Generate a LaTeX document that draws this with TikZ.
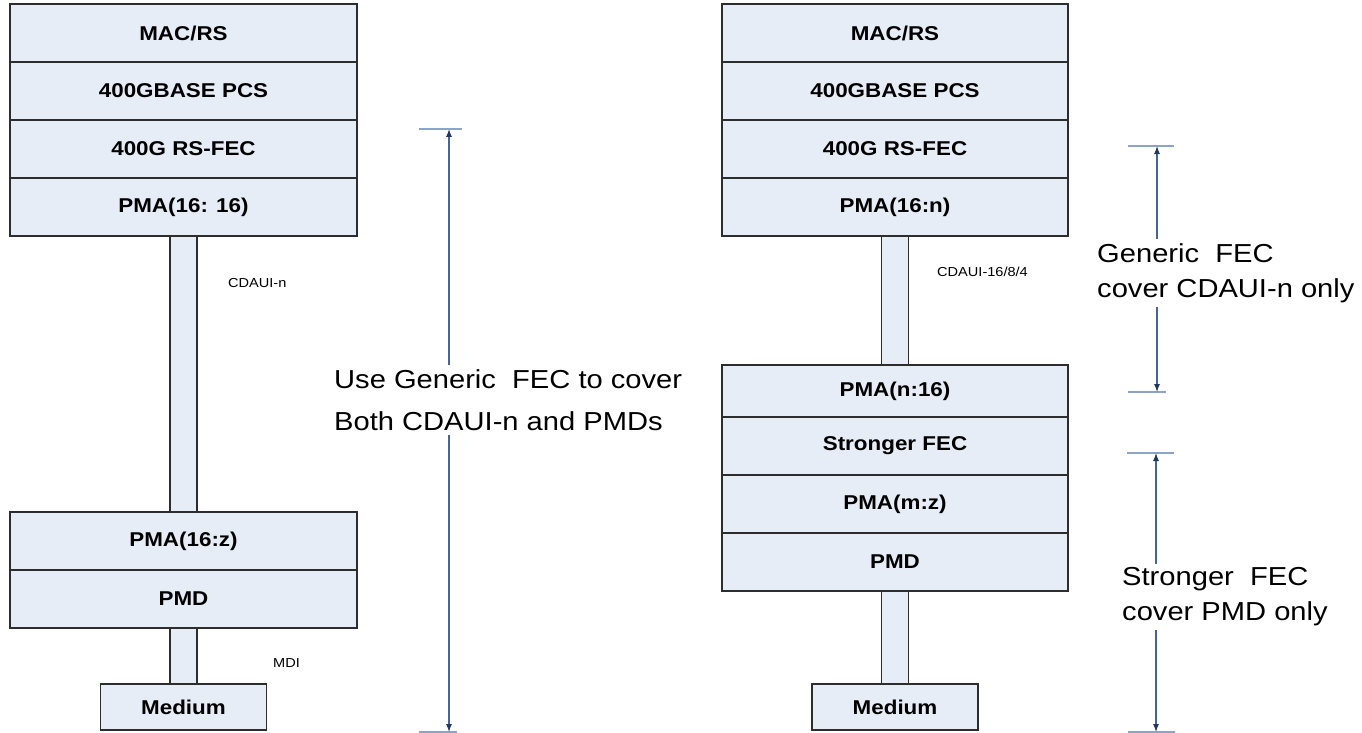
\documentclass[tikz,border=0pt]{standalone}
\usepackage{fontspec}
\setmainfont{Liberation Sans}[FakeStretch=1.12]
\usetikzlibrary{positioning,arrows.meta}
\definecolor{layerfill}{RGB}{231,237,247}
\definecolor{layerdraw}{RGB}{45,45,45}
\definecolor{spanline}{RGB}{72,100,148}
\definecolor{spancap}{RGB}{140,164,200}
\definecolor{spantip}{RGB}{31,56,100}
\tikzset{
  stacklayer/.style={draw=layerdraw, fill=layerfill, line width=1.2pt, outer sep=0pt, inner sep=0pt,
                     minimum width=347pt, minimum height=58pt, font=\fontsize{20}{24}\selectfont\bfseries},
  stacklink/.style={draw=layerdraw, fill=layerfill, line width=1.2pt, outer sep=0pt, inner sep=0pt,
                    minimum width=27pt},
  mediumbox/.style={stacklayer, minimum width=166pt, minimum height=46pt},
  ifacelabel/.style={anchor=west, inner sep=0pt, font=\fontsize{13}{15}\selectfont},
  fecnote/.style={align=left, anchor=west, inner xsep=1pt, inner ysep=4pt, font=\fontsize{26}{35}\selectfont},
  fecspan/.style={draw=spanline, line width=1.1pt, -{Latex[length=8pt,width=6pt,color=spantip]}},
  fecend/.style={draw=spancap, line width=1.3pt}
}
\newcommand{\feccap}[3]{\draw[fecend] ([xshift=-#2pt]#1) -- ([xshift=#3pt]#1);}

\begin{document}
\begin{tikzpicture}[x=1pt,y=-1pt]
\useasboundingbox (0,0) rectangle (1362,733);

\node[stacklayer] (lmac) at (183.5,33) {MAC/RS};
\node[stacklayer, below=0pt of lmac] (lpcs) {400GBASE PCS};
\node[stacklayer, below=0pt of lpcs] (lrsfec) {400G RS-FEC};
\node[stacklayer, below=0pt of lrsfec] (lpma) {PMA(16: 16)};
\node[stacklink, minimum height=276pt, below=0pt of lpma] (lcdaui) {};
\node[stacklayer, below=0pt of lcdaui] (lpmaz) {PMA(16:z)};
\node[stacklayer, below=0pt of lpmaz] (lpmd) {PMD};
\node[stacklink, minimum height=56pt, below=0pt of lpmd] (lmdi) {};
\node[mediumbox, below=0pt of lmdi] (lmedium) {Medium};

\node[ifacelabel] (lcdauitxt) at (228,283) {CDAUI-n};
\node[ifacelabel] (lmditxt) at (273,663) {MDI};

\node[stacklayer, minimum width=346pt] (rmac) at (895,33) {MAC/RS};
\node[stacklayer, minimum width=346pt, below=0pt of rmac] (rpcs) {400GBASE PCS};
\node[stacklayer, minimum width=346pt, below=0pt of rpcs] (rrsfec) {400G RS-FEC};
\node[stacklayer, minimum width=346pt, below=0pt of rrsfec] (rpma) {PMA(16:n)};
\node[stacklink, minimum height=129pt, below=0pt of rpma] (rcdaui) {};
\node[stacklayer, minimum width=346pt, minimum height=52pt, below=0pt of rcdaui] (rpman) {PMA(n:16)};
\node[stacklayer, minimum width=346pt, below=0pt of rpman] (rsfec) {Stronger FEC};
\node[stacklayer, minimum width=346pt, below=0pt of rsfec] (rpmamz) {PMA(m:z)};
\node[stacklayer, minimum width=346pt, below=0pt of rpmamz] (rpmd) {PMD};
\node[stacklink, minimum height=93pt, below=0pt of rpmd] (rmdi) {};
\node[mediumbox, below=0pt of rmdi] (rmedium) {Medium};

\node[ifacelabel] (rcdauitxt) at (937,272) {CDAUI-16/8/4};

\node[fecnote, font=\fontsize{26}{42}\selectfont] (lnote) at (333,400) {Use Generic\ \ FEC to cover\\Both CDAUI-n and PMDs};
\coordinate (ltop) at (449,129);
\coordinate (lbot) at (449,732);
\feccap{ltop}{30}{13}
\feccap{lbot}{30}{8}
\draw[fecspan] (lnote.north -| ltop) -- (ltop);
\draw[fecspan] (lnote.south -| lbot) -- (lbot);

\node[fecnote] (rnote1) at (1096,273) {Generic\ \ FEC\\cover CDAUI-n only};
\coordinate (rtop1) at (1157,146);
\coordinate (rbot1) at (1157,392);
\feccap{rtop1}{29}{17}
\feccap{rbot1}{29}{9}
\draw[fecspan] (rnote1.north -| rtop1) -- (rtop1);
\draw[fecspan] (rnote1.south -| rbot1) -- (rbot1);

\node[fecnote] (rnote2) at (1121,597) {Stronger\ \ FEC\\cover PMD only};
\coordinate (rtop2) at (1156,453);
\coordinate (rbot2) at (1156,732);
\feccap{rtop2}{29}{18}
\feccap{rbot2}{28}{19}
\draw[fecspan] (rnote2.north -| rtop2) -- (rtop2);
\draw[fecspan] (rnote2.south -| rbot2) -- (rbot2);

\end{tikzpicture}
\end{document}
